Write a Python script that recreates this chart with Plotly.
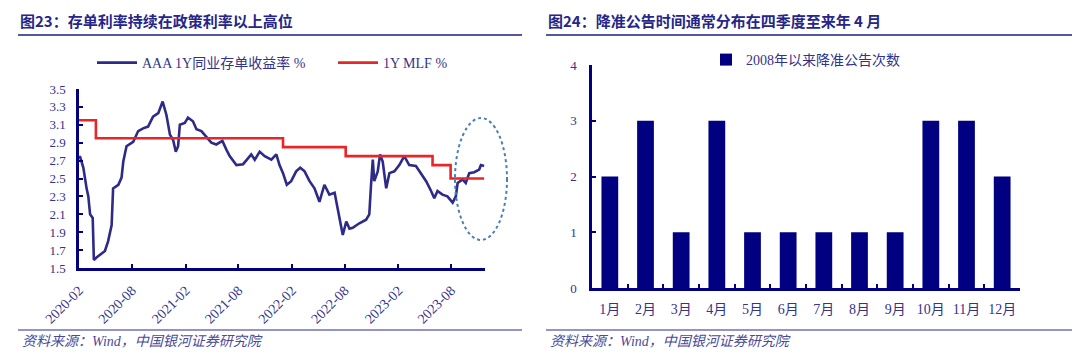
import plotly.graph_objects as go

# ---------------- data ----------------
ncd_dates = ["2020-02-01", "2020-02-04", "2020-02-16", "2020-02-22", "2020-02-27", "2020-03-04", "2020-03-10",
             "2020-03-19", "2020-03-23", "2020-04-02", "2020-04-13", "2020-04-30", "2020-05-11", "2020-05-23",
             "2020-05-28", "2020-06-15", "2020-06-26", "2020-07-02", "2020-07-13", "2020-08-05", "2020-08-22",
             "2020-09-08", "2020-09-25", "2020-10-12", "2020-10-30", "2020-11-14", "2020-11-27", "2020-12-09",
             "2020-12-20", "2020-12-29", "2021-01-06", "2021-01-12", "2021-01-29", "2021-02-09", "2021-02-26",
             "2021-03-10", "2021-03-27", "2021-04-13", "2021-04-30", "2021-05-17", "2021-06-07", "2021-06-21",
             "2021-07-02", "2021-07-25", "2021-08-17", "2021-09-14", "2021-09-26", "2021-10-13", "2021-10-30",
             "2021-11-22", "2021-12-09", "2021-12-20", "2022-01-01", "2022-01-14", "2022-01-29", "2022-02-15",
             "2022-03-01", "2022-03-16", "2022-04-02", "2022-04-19", "2022-05-06", "2022-05-23", "2022-06-09",
             "2022-06-27", "2022-07-08", "2022-07-19", "2022-07-25", "2022-08-06", "2022-08-17", "2022-08-28",
             "2022-09-09", "2022-09-20", "2022-10-13", "2022-10-24", "2022-10-30", "2022-11-05", "2022-11-10",
             "2022-11-22", "2022-11-30", "2022-12-09", "2022-12-21", "2023-01-01", "2023-01-18", "2023-02-04",
             "2023-02-21", "2023-03-10", "2023-04-02", "2023-04-19", "2023-05-07", "2023-05-24", "2023-06-04",
             "2023-06-15", "2023-07-02", "2023-07-19", "2023-08-06", "2023-08-17", "2023-08-23", "2023-09-09",
             "2023-09-20", "2023-10-02", "2023-10-19", "2023-11-05", "2023-11-11", "2023-11-22"]
ncd_values = [2.72, 2.75, 2.62, 2.47, 2.39, 2.30, 2.10,
              2.06, 1.59, 1.62, 1.65, 1.69, 1.80, 1.98,
              2.39, 2.43, 2.51, 2.69, 2.86, 2.91, 3.03,
              3.06, 3.08, 3.19, 3.23, 3.36, 3.21, 2.99,
              2.93, 2.80, 2.86, 3.10, 3.12, 3.18, 3.14,
              3.05, 3.03, 2.97, 2.90, 2.88, 2.92, 2.82,
              2.75, 2.65, 2.66, 2.77, 2.71, 2.80, 2.75,
              2.71, 2.77, 2.65, 2.56, 2.43, 2.47, 2.58,
              2.62, 2.58, 2.47, 2.39, 2.24, 2.43, 2.32,
              2.34, 2.15, 1.98, 1.87, 2.02, 1.94, 1.95,
              1.98, 2.00, 2.04, 2.10, 2.43, 2.71, 2.47,
              2.58, 2.77, 2.69, 2.39, 2.56, 2.58, 2.65,
              2.75, 2.65, 2.64, 2.56, 2.47, 2.36, 2.28,
              2.36, 2.32, 2.30, 2.23, 2.30, 2.45, 2.49,
              2.45, 2.56, 2.57, 2.60, 2.65, 2.64]

mlf_dates = ["2020-02-01", "2020-03-30", "2022-01-01", "2022-08-04", "2023-05-29", "2023-07-30", "2023-11-22"]
mlf_values = [3.15, 2.95, 2.85, 2.75, 2.65, 2.50, 2.50]

months = ["1月", "2月", "3月", "4月", "5月", "6月", "7月", "8月", "9月", "10月", "11月", "12月"]
rrr_counts = [2, 3, 1, 3, 1, 1, 1, 1, 1, 3, 3, 2]

left_title = "图23：存单利率持续在政策利率以上高位"
right_title = "图24：降准公告时间通常分布在四季度至来年 4 月"
source_text = "资料来源：Wind，中国银河证券研究院"

# ---------------- style ----------------
# the page body has an 8px margin, so the figure is offset by (8, 8) inside the 1080x361 window
OFF = 8
W, H = 1080 - 2 * OFF, 361 - 2 * OFF
SERIF = "Liberation Serif, Times New Roman, Noto Sans CJK SC, serif"
NAVY = "#000080"
TXT = "#33338a"
BLUE = "#2e2a87"
RED = "#e8262a"


def px(x):
    return (x - OFF) / W


def py(y):
    return 1 - (y - OFF) / H


fig = go.Figure()

fig.add_trace(go.Scatter(x=ncd_dates, y=ncd_values, mode="lines", name="AAA 1Y同业存单收益率 %",
                         line=dict(color=BLUE, width=2.6), xaxis="x", yaxis="y", legend="legend"))
fig.add_trace(go.Scatter(x=mlf_dates, y=mlf_values, mode="lines", name="1Y MLF %",
                         line=dict(color=RED, width=2.6, shape="hv"), xaxis="x", yaxis="y", legend="legend"))
fig.add_trace(go.Bar(x=months, y=rrr_counts, name="2008年以来降准公告次数", marker=dict(color=NAVY, line=dict(width=0)),
                     width=0.47, xaxis="x2", yaxis="y2", legend="legend2"))

axis_common = dict(showgrid=False, zeroline=False, showline=True, linecolor=NAVY, linewidth=2.5,
                   ticks="inside", tickcolor=NAVY, tickwidth=2, ticklen=4, automargin=False)
tf13 = dict(family=SERIF, size=13, color=TXT)

fig.update_layout(
    width=W, height=H,
    margin=dict(l=0, r=0, t=0, b=0, autoexpand=False),
    paper_bgcolor="white", plot_bgcolor="white",
    font=dict(family=SERIF, color=TXT),
    xaxis=dict(domain=[px(79), px(485)], anchor="y", type="date",
               range=["2020-02-01", "2023-11-25"], tick0="2020-02-01", dtick="M6",
               tickformat="%Y-%m", tickangle=-45, ticklabelstandoff=6,
               tickfont=dict(family=SERIF, size=14, color=TXT), **axis_common),
    yaxis=dict(domain=[py(268), py(89)], anchor="x", range=[1.5, 3.5], tick0=1.5, dtick=0.2,
               tickformat=".1f", ticklabelstandoff=8, tickfont=tf13, **axis_common),
    xaxis2=dict(domain=[px(592), px(1020)], anchor="y2", type="category", tickson="boundaries",
                tickangle=0, ticklabelstandoff=6, tickfont=dict(family=SERIF, size=14, color=TXT),
                **axis_common),
    yaxis2=dict(domain=[py(288), py(65)], anchor="x2", range=[0, 4], dtick=1,
                ticklabelstandoff=10, tickfont=tf13, **axis_common),
    legend=dict(orientation="h", x=px(92), y=py(63), xanchor="left", yanchor="middle",
                font=dict(family=SERIF, size=14, color=TXT), bgcolor="rgba(0,0,0,0)",
                itemwidth=40, entrywidth=186, tracegroupgap=0),
    legend2=dict(orientation="h", x=px(706), y=py(60), xanchor="left", yanchor="middle",
                 font=dict(family=SERIF, size=14, color=TXT), bgcolor="rgba(0,0,0,0)",
                 itemwidth=30),
    showlegend=True,
)

# titles, rules, sources
shapes = [
    dict(type="line", xref="paper", yref="paper", x0=px(18), x1=px(522), y0=py(35), y1=py(35),
         line=dict(color="#1f1f80", width=1.5)),
    dict(type="line", xref="paper", yref="paper", x0=px(546), x1=px(1072), y0=py(35), y1=py(35),
         line=dict(color="#1f1f80", width=1.5)),
    dict(type="line", xref="paper", yref="paper", x0=px(18), x1=px(522), y0=py(330), y1=py(330),
         line=dict(color="#7070b8", width=1.5)),
    dict(type="line", xref="paper", yref="paper", x0=px(546), x1=px(1072), y0=py(330), y1=py(330),
         line=dict(color="#7070b8", width=1.5)),
    # dotted highlight ellipse
    dict(type="circle", xref="paper", yref="paper", x0=px(455), x1=px(507), y0=py(240), y1=py(118),
         line=dict(color="#4a7fb2", width=2, dash="dot")),
]
fig.update_layout(shapes=shapes)

ann = []
for txt, x in [(left_title, 18), (right_title, 546)]:
    ann.append(dict(text="<b>" + txt + "</b>", xref="paper", yref="paper", x=px(x), y=py(20),
                    xanchor="left", yanchor="middle", showarrow=False,
                    font=dict(family="Noto Sans CJK SC", size=15, color="#25258a")))
for x in [20, 548]:
    ann.append(dict(text="<i>" + source_text + "</i>", xref="paper", yref="paper", x=px(x), y=py(341),
                    xanchor="left", yanchor="middle", showarrow=False,
                    font=dict(family=SERIF, size=14, color="#4a4a9a")))
fig.update_layout(annotations=ann)

fig.write_html("out.html")
